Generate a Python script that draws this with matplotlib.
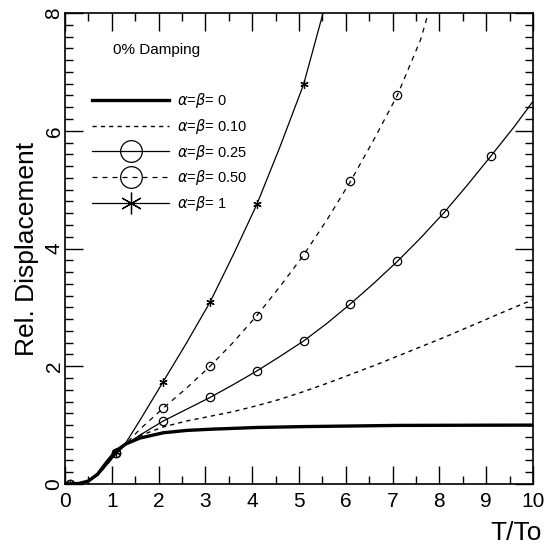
import matplotlib.pyplot as plt
import numpy as np

plt.rcParams['font.family'] = ['Liberation Sans', 'DejaVu Sans']

# T/To sample points for each curve
x_a0 = [0.0, 0.1, 0.3, 0.5, 0.7, 0.9, 1.1, 1.3, 1.6, 2.1, 2.6, 3.1, 4.1, 5.1, 6.1, 7.1, 8.1, 9.1, 10.0]
y_a0 = [0.0, 0.0, 0.01, 0.05, 0.17, 0.38, 0.57, 0.68, 0.78, 0.87, 0.91, 0.93, 0.96, 0.975, 0.985, 0.995, 0.997, 0.999, 1.0]

x_a10 = [0.0, 0.1, 0.3, 0.5, 0.7, 0.9, 1.1, 1.3, 1.6, 2.1, 2.6, 3.1, 3.6, 4.1, 4.6, 5.1, 5.6, 6.1, 6.6, 7.1, 7.6, 8.1, 8.6, 9.1, 9.6, 10.0]
y_a10 = [0.0, 0.0, 0.01, 0.05, 0.16, 0.35, 0.53, 0.67, 0.82, 0.97, 1.07, 1.15, 1.23, 1.33, 1.44, 1.57, 1.71, 1.86, 2.01, 2.17, 2.33, 2.49, 2.66, 2.83, 3.00, 3.13]

x_a25 = [0.0, 0.1, 0.3, 0.5, 0.7, 0.9, 1.1, 1.3, 1.6, 2.1, 2.6, 3.1, 3.6, 4.1, 4.6, 5.1, 5.6, 6.1, 6.6, 7.1, 7.6, 8.1, 8.6, 9.1, 9.6, 10.0]
y_a25 = [0.0, 0.0, 0.01, 0.05, 0.15, 0.33, 0.52, 0.67, 0.83, 1.07, 1.27, 1.47, 1.69, 1.92, 2.17, 2.43, 2.73, 3.06, 3.41, 3.78, 4.18, 4.61, 5.08, 5.57, 6.07, 6.50]

x_a50 = [0.0, 0.1, 0.3, 0.5, 0.7, 0.9, 1.1, 1.3, 1.6, 2.1, 2.6, 3.1, 3.6, 4.1, 4.6, 5.1, 5.6, 6.1, 6.6, 7.1, 7.6, 7.8]
y_a50 = [0.0, 0.0, 0.01, 0.05, 0.15, 0.33, 0.53, 0.68, 0.93, 1.29, 1.63, 2.00, 2.41, 2.86, 3.36, 3.89, 4.49, 5.14, 5.85, 6.60, 7.55, 8.10]

x_a100 = [0.0, 0.1, 0.3, 0.5, 0.7, 0.9, 1.1, 1.3, 1.6, 2.1, 2.6, 3.1, 3.6, 4.1, 4.6, 5.1, 5.6]
y_a100 = [0.0, 0.0, 0.01, 0.05, 0.15, 0.34, 0.55, 0.70, 1.08, 1.74, 2.40, 3.09, 3.90, 4.75, 5.74, 6.79, 8.25]


def marker_idx(xs):
    # markers sit at T/To = 0.1, 1.1, 2.1, ...
    return [i for i, v in enumerate(xs) if abs((v - 0.1) - round(v - 0.1)) < 1e-6]


fig = plt.figure(figsize=(5.47, 5.49), dpi=100)
ax = fig.add_axes([0.1188, 0.1184, 0.8556, 0.8579])

ax.plot(x_a0, y_a0, color='black', lw=2.4, label=r'$\alpha$=$\beta$= 0')
ax.plot(x_a10, y_a10, color='black', lw=1.0, dashes=(3, 3), label=r'$\alpha$=$\beta$= 0.10')
ax.plot(x_a25, y_a25, color='black', lw=0.9, marker='o', ms=6, mfc='none', mew=0.9,
        markevery=marker_idx(x_a25), label=r'$\alpha$=$\beta$= 0.25')
ax.plot(x_a50, y_a50, color='black', lw=0.9, dashes=(4, 4), marker='o', ms=6, mfc='none', mew=0.9,
        markevery=marker_idx(x_a50), label=r'$\alpha$=$\beta$= 0.50')
ax.plot(x_a100, y_a100, color='black', lw=0.9, marker=(6, 2, 0), ms=6, mew=0.9,
        markevery=marker_idx(x_a100), label=r'$\alpha$=$\beta$= 1')

ax.set_xlim(0, 10)
ax.set_ylim(0, 8)
ax.set_xticks(np.arange(0, 11, 1))
ax.set_xticks(np.arange(0, 10.01, 0.5), minor=True)
ax.set_yticks([0, 2, 4, 6, 8])
ax.set_yticks(np.arange(0, 8.01, 0.2), minor=True)
ax.tick_params(which='both', direction='in', top=True, right=True, width=1, colors='black')
ax.tick_params(which='major', length=13, labelsize=15, pad=6)
ax.tick_params(axis='y', which='major', pad=1)
ax.tick_params(which='minor', length=6)
ax.tick_params(axis='y', which='major', labelrotation=90)
for lab in ax.get_yticklabels():
    lab.set_va('center')
for sp in ax.spines.values():
    sp.set_linewidth(1.2)

ax.set_ylabel('Rel. Displacement', fontsize=19, labelpad=4)
ax.set_xlabel('T/To', fontsize=19)
ax.xaxis.set_label_coords(0.963, -0.105)
ax.xaxis.label.set_ha('center')
ax.xaxis.label.set_va('center')

ax.text(1.03, 7.37, '0% Damping', fontsize=11, va='center')

ax.legend(loc='upper left', bbox_to_anchor=(0.03, 0.862), frameon=False, fontsize=10.5,
          handlelength=5.3, markerscale=2.6, labelspacing=0.46, handletextpad=0.5)

fig.savefig('out.png', dpi=100)
